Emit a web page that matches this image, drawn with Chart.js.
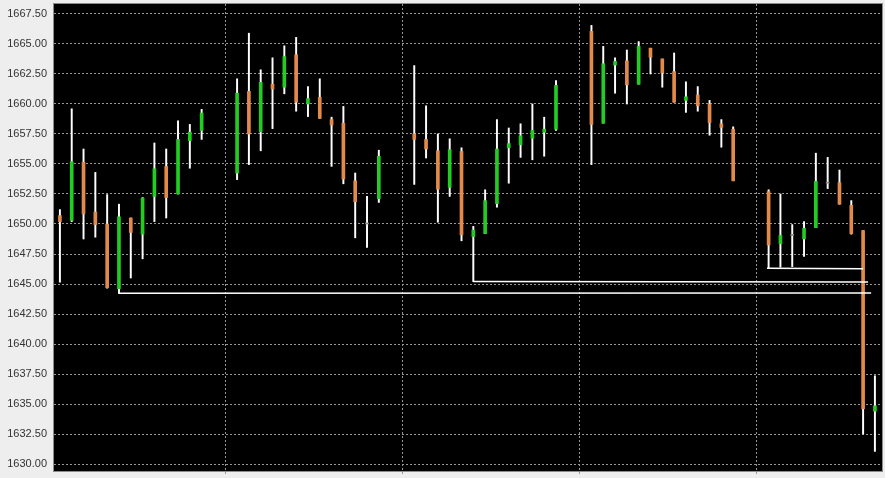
<!DOCTYPE html>
<html>
<head>
<meta charset="utf-8">
<title>Candles</title>
<script src="https://cdn.jsdelivr.net/npm/chart.js@4.4.1/dist/chart.umd.min.js"></script>
<style>
  html, body { margin: 0; padding: 0; background: #eeeeee; }
  #wrap { width: 885px; height: 478px; }
</style>
</head>
<body>
<div id="wrap"><canvas id="candles" width="885" height="478"></canvas></div>
<script>
// bar slot of every candle (missing slots are gaps in the feed)
const slots = [0, 1, 2, 3, 4, 5, 6, 7, 8, 9, 10, 11, 12,
  15, 16, 17, 18, 19, 20, 21, 22, 23, 24, 25, 26, 27,
  30, 31, 32, 33, 34, 35, 36, 37, 38, 39, 40, 41, 42,
  45, 46, 47, 48, 49, 50, 51, 52, 53, 54, 55, 56, 57,
  60, 61, 62, 63, 64, 65, 66, 67, 68, 69];

const opens = [1650.7, 1650.3, 1655.15, 1651.0, 1650.0, 1644.6, 1650.5, 1649.15, 1652.3, 1654.8, 1652.5, 1656.95, 1657.8,
  1654.25, 1661.05, 1657.7, 1661.65, 1661.4, 1664.1, 1660.0, 1660.55, 1658.7, 1658.4, 1653.6, 1650.0, 1652.1,
  1657.5, 1657.05, 1656.1, 1653.05, 1656.05, 1648.95, 1649.2, 1651.7, 1656.35, 1656.6, 1657.15, 1657.65, 1657.9,
  1666.05, 1658.4, 1663.25, 1663.6, 1661.65, 1664.65, 1663.75, 1662.7, 1660.3, 1660.75, 1660.0, 1658.35, 1657.9,
  1652.7, 1648.35, 1649.05, 1648.75, 1649.7, 1653.4, 1653.45, 1651.55, 1649.45, 1634.4];

const highs = [1651.2, 1659.6, 1656.25, 1654.3, 1652.45, 1651.65, 1650.5, 1652.2, 1656.75, 1656.25, 1658.6, 1658.3, 1659.55,
  1662.1, 1665.9, 1662.85, 1663.85, 1664.85, 1665.55, 1661.45, 1662.1, 1658.9, 1659.8, 1654.25, 1652.3, 1656.15,
  1663.2, 1659.85, 1657.5, 1657.1, 1656.35, 1649.8, 1652.85, 1658.7, 1658.0, 1658.35, 1660.0, 1658.9, 1661.95,
  1666.55, 1664.8, 1663.85, 1664.5, 1665.2, 1664.65, 1663.75, 1664.25, 1661.85, 1661.45, 1660.3, 1658.7, 1658.1,
  1652.85, 1652.5, 1649.95, 1650.2, 1655.9, 1655.55, 1654.5, 1651.95, 1649.45, 1637.35];

const lows = [1645.15, 1650.2, 1648.75, 1648.9, 1644.65, 1644.2, 1645.5, 1647.1, 1650.2, 1650.5, 1652.5, 1654.65, 1657.05,
  1653.7, 1654.95, 1656.1, 1657.95, 1660.85, 1659.4, 1658.95, 1658.8, 1654.8, 1653.35, 1648.85, 1648.05, 1651.8,
  1653.3, 1655.5, 1650.15, 1652.3, 1648.6, 1645.2, 1649.2, 1651.4, 1653.4, 1655.55, 1655.35, 1655.65, 1657.8,
  1654.95, 1658.4, 1660.9, 1660.0, 1661.65, 1662.5, 1661.4, 1660.15, 1659.3, 1659.4, 1657.4, 1656.4, 1653.6,
  1646.3, 1646.4, 1646.45, 1647.3, 1649.7, 1652.95, 1651.65, 1649.15, 1632.5, 1631.05];

const closes = [1650.2, 1655.2, 1650.85, 1649.95, 1644.7, 1650.6, 1649.3, 1652.15, 1654.6, 1652.2, 1657.05, 1657.65, 1659.25,
  1660.9, 1657.5, 1661.8, 1661.25, 1663.95, 1660.15, 1660.45, 1658.8, 1658.25, 1653.75, 1651.85, 1650.0, 1655.65,
  1657.05, 1656.25, 1652.9, 1656.2, 1649.1, 1649.5, 1651.95, 1656.25, 1656.7, 1657.35, 1657.8, 1657.9, 1661.55,
  1658.3, 1663.35, 1663.55, 1661.6, 1664.8, 1663.9, 1662.6, 1660.15, 1660.6, 1659.85, 1658.45, 1658.05, 1653.6,
  1648.25, 1649.05, 1649.05, 1649.65, 1653.55, 1653.4, 1651.65, 1649.2, 1634.6, 1634.85];

// support lines drawn on the chart: [fromSlot, fromValue, toSlot, toValue]
const supportA = [5, 1644.22, 68.68, 1644.25];
const supportB = [35, 1645.2, 68.42, 1645.17];
const supportC = [59.86, 1646.31, 68.0, 1646.27];

const yTicks = [1630, 1632.5, 1635, 1637.5, 1640, 1642.5, 1645, 1647.5, 1650, 1652.5, 1655, 1657.5, 1660, 1662.5, 1665, 1667.5];
const xTicks = [14, 29, 44, 59];

const UP = '#22cc22';
const DOWN = '#e3894a';
const FLAT = '#8c8c7a';

const bodyColors = opens.map((o, i) => closes[i] > o ? UP : (closes[i] < o ? DOWN : FLAT));

const toLine = (s) => [{ x: s[0], y: s[1] }, { x: s[2], y: s[3] }];

// black plot area with a thin grey frame
const plotFrame = {
  id: 'plotFrame',
  beforeDraw(chart) {
    const { ctx, chartArea: a } = chart;
    ctx.save();
    ctx.fillStyle = '#000000';
    ctx.fillRect(a.left, a.top, a.right - a.left, a.bottom - a.top);
    ctx.restore();
  },
  afterDraw(chart) {
    const { ctx, chartArea: a } = chart;
    ctx.save();
    ctx.strokeStyle = '#8c8c8c';
    ctx.lineWidth = 1;
    ctx.strokeRect(a.left - 0.5, a.top - 0.5, a.right - a.left + 1, a.bottom - a.top + 1);
    ctx.restore();
  }
};

const lineStyle = {
  type: 'line',
  borderColor: '#ffffff',
  borderWidth: 1.5,
  pointRadius: 0,
  fill: false,
  order: 0
};

new Chart(document.getElementById('candles'), {
  type: 'bar',
  data: {
    datasets: [
      {
        label: 'wick',
        data: slots.map((s, i) => ({ x: s, y: [lows[i], highs[i]] })),
        backgroundColor: '#ffffff',
        barThickness: 1.3,
        grouped: false,
        order: 3
      },
      {
        label: 'body',
        data: slots.map((s, i) => ({ x: s, y: [opens[i], closes[i]] })),
        backgroundColor: bodyColors,
        barThickness: 3,
        minBarLength: 1,
        grouped: false,
        order: 2
      },
      { ...lineStyle, label: 'supportA', data: toLine(supportA) },
      { ...lineStyle, label: 'supportB', data: toLine(supportB) },
      { ...lineStyle, label: 'supportC', data: toLine(supportC) }
    ]
  },
  options: {
    responsive: false,
    animation: false,
    layout: { padding: { top: 4, right: 3, left: 0, bottom: 0 } },
    plugins: {
      legend: { display: false },
      tooltip: { enabled: false }
    },
    scales: {
      x: {
        type: 'linear',
        min: -0.5,
        max: 69.6,
        offset: false,
        afterBuildTicks: (scale) => { scale.ticks = xTicks.map(v => ({ value: v })); },
        afterFit: (scale) => {
          scale.height = 7;
          scale.paddingLeft = 0;
          scale.paddingRight = 0;
        },
        ticks: { display: false },
        grid: {
          offset: false,
          color: '#969696',
          lineWidth: 1,
          drawTicks: true,
          tickLength: 3,
          tickColor: '#969696'
        },
        border: { display: false, dash: [2, 2] }
      },
      y: {
        min: 1629.4167,
        max: 1668.3333,
        afterBuildTicks: (scale) => { scale.ticks = yTicks.map(v => ({ value: v })); },
        afterFit: (scale) => {
          scale.width = 54;
          scale.paddingTop = 0;
          scale.paddingBottom = 0;
        },
        ticks: {
          padding: 7,
          color: '#333333',
          font: { family: "'Liberation Sans', Arial, sans-serif", size: 11 },
          callback: (v) => Number(v).toFixed(2)
        },
        grid: {
          color: '#969696',
          lineWidth: 1,
          drawTicks: false
        },
        border: { display: false, dash: [2, 2] }
      }
    }
  },
  plugins: [plotFrame]
});
</script>
</body>
</html>
